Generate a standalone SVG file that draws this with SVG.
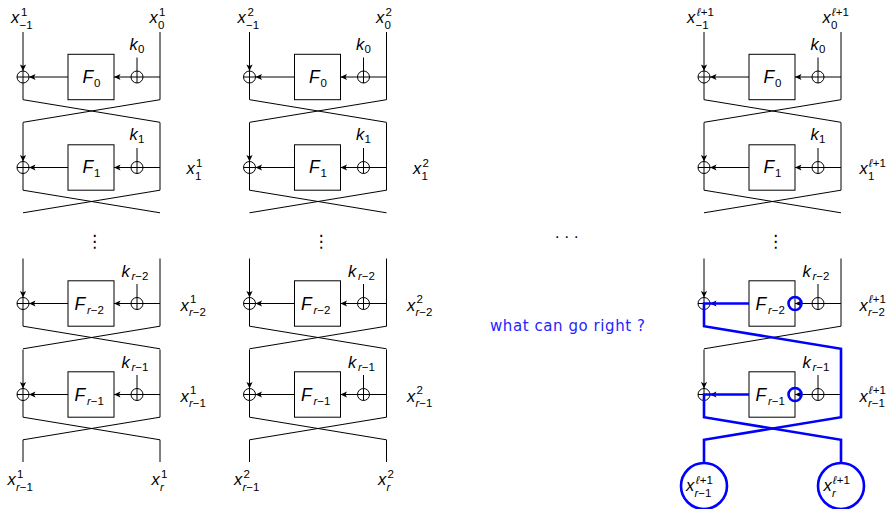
<svg xmlns="http://www.w3.org/2000/svg" xmlns:xlink="http://www.w3.org/1999/xlink" width="894" height="509" viewBox="0 0 894 509">
<style>
.w{fill:none;stroke:#000;stroke-width:1}
.bl{fill:none;stroke:#0000ff;stroke-width:2.6}
.m{font-family:"Liberation Sans","DejaVu Sans",sans-serif;font-style:italic;font-size:16.5px;fill:#000}
.f{font-size:17.5px}
.s{font-size:11.5px;font-style:normal}
.i{font-style:italic}
.dots{font-family:"DejaVu Sans",sans-serif;font-size:17px;fill:#000}
.q{font-family:"DejaVu Sans",sans-serif;font-size:15px;fill:#2424ff}
</style>
<defs>
<marker id="ar" markerWidth="9" markerHeight="9" refX="7" refY="4.5" orient="auto" markerUnits="userSpaceOnUse">
<path d="M0.5,1.4 L7,4.5 L0.5,7.6 L2,4.5 Z" fill="#000"/>
</marker>
<g id="xor"><circle cx="0" cy="0" r="6" class="w"/><path d="M-6,0H6M0,-6V6" class="w"/></g>
<g id="rnd">
<path d="M0,-45V-6" class="w" marker-end="url(#ar)"/>
<use xlink:href="#xor"/>
<path d="M0,6V22.7" class="w"/>
<rect x="45" y="-22.7" width="46" height="45.4" class="w"/>
<path d="M137,-45V22.7M137,0H120M114,-19.5V-6" class="w"/>
<use xlink:href="#xor" x="114"/>
<path d="M108,0H91" class="w" marker-end="url(#ar)"/>
<path d="M45,0H6" class="w" marker-end="url(#ar)"/>
<path d="M0,22.7L137,45.3M137,22.7L0,45.3" class="w"/>
</g>
</defs>
<rect width="894" height="509" fill="#fff"/>

<!-- Column 1 -->
<g id="col1">
<g id="c1-r0"><use xlink:href="#rnd" transform="translate(23,77)"/>
<text class="m"><tspan x="82.5" y="83" class="f">F</tspan><tspan class="s" x="94" y="86.5">0</tspan></text>
<text class="m"><tspan x="129.5" y="50">k</tspan><tspan class="s" x="138" y="53">0</tspan></text></g>
<g id="c1-r1"><use xlink:href="#rnd" transform="translate(23,167.5)"/>
<text class="m"><tspan x="82.5" y="173" class="f">F</tspan><tspan class="s" x="94" y="176.5">1</tspan></text>
<text class="m"><tspan x="129.5" y="140">k</tspan><tspan class="s" x="138" y="143">1</tspan></text></g>
<g id="c1-r2"><use xlink:href="#rnd" transform="translate(23,303.5)"/>
<text class="m"><tspan x="74.5" y="310" class="f">F</tspan><tspan class="s" x="87" y="313.5"><tspan class="i">r</tspan>−2</tspan></text>
<text class="m"><tspan x="121.5" y="276.5">k</tspan><tspan class="s" x="131.5" y="279.5"><tspan class="i">r</tspan>−2</tspan></text></g>
<g id="c1-r3"><use xlink:href="#rnd" transform="translate(23,394.5)"/>
<text class="m"><tspan x="74.5" y="401" class="f">F</tspan><tspan class="s" x="87" y="404.5"><tspan class="i">r</tspan>−1</tspan></text>
<text class="m"><tspan x="121.5" y="367.5">k</tspan><tspan class="s" x="131.5" y="370.5"><tspan class="i">r</tspan>−1</tspan></text></g>
<path d="M23,439.8V462M160,439.8V462" class="w"/>
<text class="dots" x="86" y="247">⋮</text>
<text class="m"><tspan x="11" y="23">x</tspan><tspan class="s" x="21" y="15.5">1</tspan><tspan class="s" x="19.5" y="28.5">−1</tspan></text>
<text class="m"><tspan x="149.5" y="23">x</tspan><tspan class="s" x="159" y="15.5">1</tspan><tspan class="s" x="158" y="28.5">0</tspan></text>
<text class="m"><tspan x="186.5" y="174">x</tspan><tspan class="s" x="196" y="166.5">1</tspan><tspan class="s" x="195" y="179.5">1</tspan></text>
<text class="m"><tspan x="180.5" y="310.5">x</tspan><tspan class="s" x="190" y="303">1</tspan><tspan class="s" x="189" y="316"><tspan class="i">r</tspan>−2</tspan></text>
<text class="m"><tspan x="180.5" y="401.5">x</tspan><tspan class="s" x="190" y="394">1</tspan><tspan class="s" x="189" y="407"><tspan class="i">r</tspan>−1</tspan></text>
<text class="m"><tspan x="7.5" y="485">x</tspan><tspan class="s" x="17" y="477.5">1</tspan><tspan class="s" x="16" y="490.5"><tspan class="i">r</tspan>−1</tspan></text>
<text class="m"><tspan x="151.5" y="485">x</tspan><tspan class="s" x="161" y="477.5">1</tspan><tspan class="s" x="160" y="490.5"><tspan class="i">r</tspan></tspan></text>
</g>

<!-- Column 2 -->
<g id="col2" transform="translate(226.5,0)">
<g id="c2-r0"><use xlink:href="#rnd" transform="translate(23,77)"/>
<text class="m"><tspan x="82.5" y="83" class="f">F</tspan><tspan class="s" x="94" y="86.5">0</tspan></text>
<text class="m"><tspan x="129.5" y="50">k</tspan><tspan class="s" x="138" y="53">0</tspan></text></g>
<g id="c2-r1"><use xlink:href="#rnd" transform="translate(23,167.5)"/>
<text class="m"><tspan x="82.5" y="173" class="f">F</tspan><tspan class="s" x="94" y="176.5">1</tspan></text>
<text class="m"><tspan x="129.5" y="140">k</tspan><tspan class="s" x="138" y="143">1</tspan></text></g>
<g id="c2-r2"><use xlink:href="#rnd" transform="translate(23,303.5)"/>
<text class="m"><tspan x="74.5" y="310" class="f">F</tspan><tspan class="s" x="87" y="313.5"><tspan class="i">r</tspan>−2</tspan></text>
<text class="m"><tspan x="121.5" y="276.5">k</tspan><tspan class="s" x="131.5" y="279.5"><tspan class="i">r</tspan>−2</tspan></text></g>
<g id="c2-r3"><use xlink:href="#rnd" transform="translate(23,394.5)"/>
<text class="m"><tspan x="74.5" y="401" class="f">F</tspan><tspan class="s" x="87" y="404.5"><tspan class="i">r</tspan>−1</tspan></text>
<text class="m"><tspan x="121.5" y="367.5">k</tspan><tspan class="s" x="131.5" y="370.5"><tspan class="i">r</tspan>−1</tspan></text></g>
<path d="M23,439.8V462M160,439.8V462" class="w"/>
<text class="dots" x="86" y="247">⋮</text>
<text class="m"><tspan x="11" y="23">x</tspan><tspan class="s" x="21" y="15.5">2</tspan><tspan class="s" x="19.5" y="28.5">−1</tspan></text>
<text class="m"><tspan x="149.5" y="23">x</tspan><tspan class="s" x="159" y="15.5">2</tspan><tspan class="s" x="158" y="28.5">0</tspan></text>
<text class="m"><tspan x="186.5" y="174">x</tspan><tspan class="s" x="196" y="166.5">2</tspan><tspan class="s" x="195" y="179.5">1</tspan></text>
<text class="m"><tspan x="180.5" y="310.5">x</tspan><tspan class="s" x="190" y="303">2</tspan><tspan class="s" x="189" y="316"><tspan class="i">r</tspan>−2</tspan></text>
<text class="m"><tspan x="180.5" y="401.5">x</tspan><tspan class="s" x="190" y="394">2</tspan><tspan class="s" x="189" y="407"><tspan class="i">r</tspan>−1</tspan></text>
<text class="m"><tspan x="7.5" y="485">x</tspan><tspan class="s" x="17" y="477.5">2</tspan><tspan class="s" x="16" y="490.5"><tspan class="i">r</tspan>−1</tspan></text>
<text class="m"><tspan x="151.5" y="485">x</tspan><tspan class="s" x="161" y="477.5">2</tspan><tspan class="s" x="160" y="490.5"><tspan class="i">r</tspan></tspan></text>
</g>

<!-- Middle -->
<g id="mid">
<text x="555" y="238" font-family="Liberation Sans, sans-serif" font-size="16" letter-spacing="5">...</text>
<text class="q" x="490" y="331" textLength="155" lengthAdjust="spacing">what can go right ?</text>
</g>

<!-- Column 3 -->
<g id="col3" transform="translate(681,0)">
<g id="c3-r0"><use xlink:href="#rnd" transform="translate(23,77)"/>
<text class="m"><tspan x="82.5" y="83" class="f">F</tspan><tspan class="s" x="94" y="86.5">0</tspan></text>
<text class="m"><tspan x="129.5" y="50">k</tspan><tspan class="s" x="138" y="53">0</tspan></text></g>
<g id="c3-r1"><use xlink:href="#rnd" transform="translate(23,167.5)"/>
<text class="m"><tspan x="82.5" y="173" class="f">F</tspan><tspan class="s" x="94" y="176.5">1</tspan></text>
<text class="m"><tspan x="129.5" y="140">k</tspan><tspan class="s" x="138" y="143">1</tspan></text></g>
<g id="c3-r2"><use xlink:href="#rnd" transform="translate(23,303.5)"/>
<text class="m"><tspan x="74.5" y="310" class="f">F</tspan><tspan class="s" x="87" y="313.5"><tspan class="i">r</tspan>−2</tspan></text>
<text class="m"><tspan x="121.5" y="276.5">k</tspan><tspan class="s" x="131.5" y="279.5"><tspan class="i">r</tspan>−2</tspan></text></g>
<g id="c3-r3"><use xlink:href="#rnd" transform="translate(23,394.5)"/>
<text class="m"><tspan x="74.5" y="401" class="f">F</tspan><tspan class="s" x="87" y="404.5"><tspan class="i">r</tspan>−1</tspan></text>
<text class="m"><tspan x="121.5" y="367.5">k</tspan><tspan class="s" x="131.5" y="370.5"><tspan class="i">r</tspan>−1</tspan></text></g>
<text class="dots" x="86" y="247">⋮</text>
<text class="m"><tspan x="6" y="23">x</tspan><tspan class="s i" x="16" y="15.5">ℓ</tspan><tspan class="s">+1</tspan><tspan class="s" x="14.5" y="28.5">−1</tspan></text>
<text class="m"><tspan x="141.5" y="23">x</tspan><tspan class="s i" x="151" y="15.5">ℓ</tspan><tspan class="s">+1</tspan><tspan class="s" x="150" y="28.5">0</tspan></text>
<text class="m"><tspan x="178.5" y="174">x</tspan><tspan class="s i" x="188" y="166.5">ℓ</tspan><tspan class="s">+1</tspan><tspan class="s" x="187" y="179.5">1</tspan></text>
<text class="m"><tspan x="178.5" y="310.5">x</tspan><tspan class="s i" x="188" y="303">ℓ</tspan><tspan class="s">+1</tspan><tspan class="s" x="187" y="316"><tspan class="i">r</tspan>−2</tspan></text>
<text class="m"><tspan x="178.5" y="401.5">x</tspan><tspan class="s i" x="188" y="394">ℓ</tspan><tspan class="s">+1</tspan><tspan class="s" x="187" y="407"><tspan class="i">r</tspan>−1</tspan></text>
</g>

<!-- Blue trail -->
<g id="trail">
<path d="M749,303.5H704V326.2L841,348.8V417.2L704,439.8V463" class="bl"/>
<path d="M749,394.5H704V417.2L841,439.8V463" class="bl"/>
<circle cx="795" cy="303.5" r="6.5" class="bl"/>
<circle cx="795" cy="394.5" r="6.5" class="bl"/>
</g>
<g id="out-left"><circle cx="704" cy="486" r="23" fill="#fff" class="bl"/>
<text class="m"><tspan x="686" y="491">x</tspan><tspan class="s i" x="696" y="483.5">ℓ</tspan><tspan class="s">+1</tspan><tspan class="s" x="694.5" y="496.5"><tspan class="i">r</tspan>−1</tspan></text></g>
<g id="out-right"><circle cx="841" cy="486" r="23" fill="#fff" class="bl"/>
<text class="m"><tspan x="823.5" y="491">x</tspan><tspan class="s i" x="833" y="483.5">ℓ</tspan><tspan class="s">+1</tspan><tspan class="s" x="832" y="496.5"><tspan class="i">r</tspan></tspan></text></g>
</svg>
